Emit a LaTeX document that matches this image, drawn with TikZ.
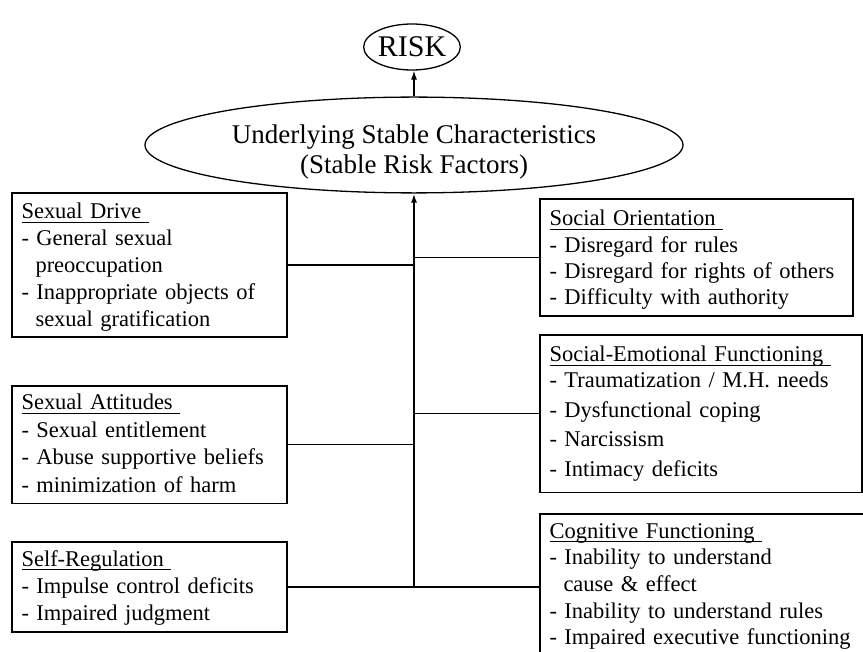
\documentclass[tikz,border=0pt]{standalone}
\usepackage{fontspec}
\setmainfont{Liberation Serif}
\usetikzlibrary{shapes.geometric,arrows.meta}
% underlined heading, the rule running on under a trailing space
\newcommand\factorhead[1]{\setbox0=\hbox{#1\ }\rlap{\rule[-4pt]{\wd0}{1.2pt}}\box0}
% struts fixing the distance from the box edges to the first and last baselines
\newcommand\upstrut[1]{\rule{0pt}{#1pt}}
\newcommand\downstrut[1]{\rule[-#1pt]{0pt}{#1pt}}
% indent of a continued list item
\newcommand\cont{\hspace*{14pt}}

\begin{document}
\begin{tikzpicture}[x=1pt,y=-1pt,
  factor/.style={draw, line width=1.3pt, anchor=north west, inner xsep=9.5pt,
                 inner ysep=0pt, outer sep=0pt, align=left},
  oval/.style={ellipse, draw, line width=1.3pt, inner sep=0pt, align=center},
  link/.style={line width=1.1pt},
  tip/.style={-{Latex[length=9pt,width=6pt]}}
]
\useasboundingbox (0,0) rectangle (863,652);

% outcome and the central construct
\node[oval, minimum width=96pt, minimum height=46pt,
      font=\fontsize{30}{32}\selectfont] (risk) at (412,47) {RISK};
\node[oval, minimum width=538pt, minimum height=92pt,
      font=\fontsize{27}{30}\selectfont] (usc) at (414,145)
  {\rule{0pt}{32pt}Underlying Stable Characteristics\\(Stable Risk Factors)};

% left column of factors
\node[factor, text width=256pt, font=\fontsize{22.5}{27}\selectfont] (drive) at (12,193)
  {\upstrut{26}\factorhead{Sexual Drive}\\
   - General sexual\\
   \cont preoccupation\\
   - Inappropriate objects of\\
   \cont sexual gratification\downstrut{10}};

\node[factor, text width=256pt, font=\fontsize{22.5}{27.5}\selectfont] (attitudes) at (12,386)
  {\upstrut{24}\factorhead{Sexual Attitudes}\\
   - Sexual entitlement\\
   - Abuse supportive beliefs\\
   - minimization of harm\downstrut{11}};

\node[factor, text width=256pt, font=\fontsize{22.5}{27}\selectfont] (selfreg) at (12,542)
  {\upstrut{24}\factorhead{Self-Regulation}\\
   - Impulse control deficits\\
   - Impaired judgment\downstrut{12}};

% right column of factors
\node[factor, text width=294pt, font=\fontsize{22.5}{26.3}\selectfont] (social) at (540,199)
  {\upstrut{27}\factorhead{Social Orientation}\\
   - Disregard for rules\\
   - Disregard for rights of others\\
   - Difficulty with authority\downstrut{11}};

\node[factor, text width=303pt, font=\fontsize{22.5}{26}\selectfont] (emotional) at (540,335)
  {\upstrut{27}\factorhead{Social-Emotional Functioning}\\
   - Traumatization / M.H. needs\\[3.5pt]
   - Dysfunctional coping\\[3.5pt]
   - Narcissism\\[3.5pt]
   - Intimacy deficits\downstrut{16}};

\node[factor, text width=307pt, font=\fontsize{22.5}{26.75}\selectfont] (cognitive) at (540,514)
  {\upstrut{24}\factorhead{Cognitive Functioning}\\
   - Inability to understand\\
   \cont cause \& effect\\
   - Inability to understand rules\\
   - Impaired executive functioning\downstrut{15}};

% trunk and branches
\coordinate (base) at (414,587);
\draw[link, line width=1.7pt, tip] (base) -- (usc.south);
\draw[link, tip] (usc.north) -- (usc.north |- risk.south);

\draw[link] (drive.east) -- (drive.east -| base);
\draw[link] (attitudes.east) -- (attitudes.east -| base);
\draw[link] (selfreg.east) -- (selfreg.east -| base);
\draw[link] (social.west) -- (social.west -| base);
\draw[link] (emotional.west) -- (emotional.west -| base);
\draw[link] (cognitive.west) -- (cognitive.west -| base);
\end{tikzpicture}
\end{document}
